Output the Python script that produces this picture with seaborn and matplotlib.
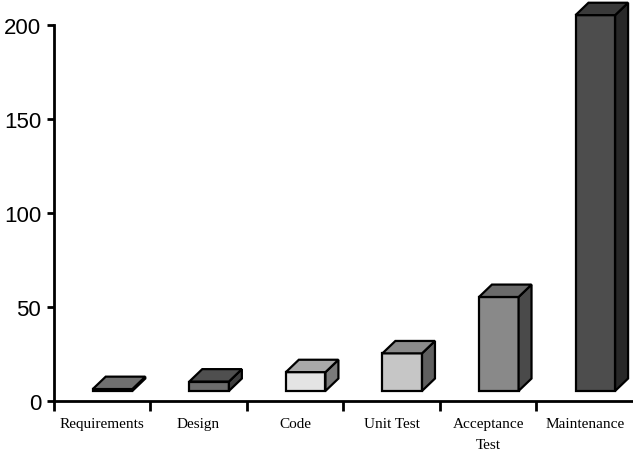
import matplotlib
matplotlib.use("Agg")
import matplotlib.pyplot as plt
from matplotlib.patches import Polygon
import seaborn as sns
import pandas as pd

categories = ["Requirements", "Design", "Code", "Unit Test", "Acceptance\nTest", "Maintenance"]
values = [1, 5, 10, 20, 50, 200]
front_colors = ["#707070", "#6c6c6c", "#e4e4e4", "#c6c6c6", "#898989", "#4d4d4d"]
top_colors = ["#707070", "#4f4f4f", "#a9a9a9", "#8a8a8a", "#6a6a6a", "#3a3a3a"]
side_colors = ["#555555", "#3e3e3e", "#7a7a7a", "#5f5f5f", "#4a4a4a", "#282828"]
y_ticks = [0, 50, 100, 150, 200]

sns.set_theme(style="white")
plt.rcParams["font.family"] = ["Liberation Sans Narrow", "Liberation Sans", "DejaVu Sans"]

fig = plt.figure(figsize=(6.33, 4.52), dpi=100)
ax = fig.add_axes([0.0848, 0.1117, 0.9152, 0.8314])

df = pd.DataFrame({"cat": categories, "val": values})
sns.barplot(data=df, x="cat", y="val", hue="cat", palette=front_colors, legend=False,
            width=0.41, edgecolor="black", linewidth=1.6, ax=ax, saturation=1)

base = 5.1      # front floor offset (data units)
shift = 0.11    # front face offset from category centre
dx, dy = 0.134, 6.6  # depth offsets

for i, p in enumerate(ax.patches):
    x0 = p.get_x() + shift
    w = p.get_width()
    h = p.get_height()
    p.set_x(x0)
    p.set_y(base)
    p.set_clip_on(False)
    x1 = x0 + w
    top = base + h
    side = Polygon([(x1, base), (x1 + dx, base + dy), (x1 + dx, top + dy), (x1, top)],
                   closed=True, facecolor=side_colors[i], edgecolor="black",
                   linewidth=1.6, joinstyle="miter", clip_on=False, zorder=3)
    topf = Polygon([(x0, top), (x1, top), (x1 + dx, top + dy), (x0 + dx, top + dy)],
                   closed=True, facecolor=top_colors[i], edgecolor="black",
                   linewidth=1.6, joinstyle="miter", clip_on=False, zorder=3)
    ax.add_patch(side)
    ax.add_patch(topf)

ax.set_xlim(-0.5, 5.5)
ax.set_ylim(0, 200)
ax.set_yticks(y_ticks)
ax.set_yticklabels([str(v) for v in y_ticks], fontsize=16)
ax.set_xlabel("")
ax.set_ylabel("")

ax.set_xticks(range(len(categories)))
ax.set_xticklabels(categories, fontsize=11, family=["Liberation Serif", "DejaVu Serif"],
                   linespacing=1.75)
ax.set_xticks([-0.5, 0.5, 1.5, 2.5, 3.5, 4.5], minor=True)
ax.tick_params(axis="x", which="major", length=0, pad=12, colors="black")
ax.tick_params(axis="x", which="minor", length=7, width=2, direction="out",
               bottom=True, color="black")
ax.tick_params(axis="y", length=5, width=2, direction="out", left=True, pad=4,
               colors="black")

for s in ["top", "right"]:
    ax.spines[s].set_visible(False)
for s in ["left", "bottom"]:
    ax.spines[s].set_linewidth(2)
    ax.spines[s].set_color("black")

fig.savefig("out.png", dpi=100)
